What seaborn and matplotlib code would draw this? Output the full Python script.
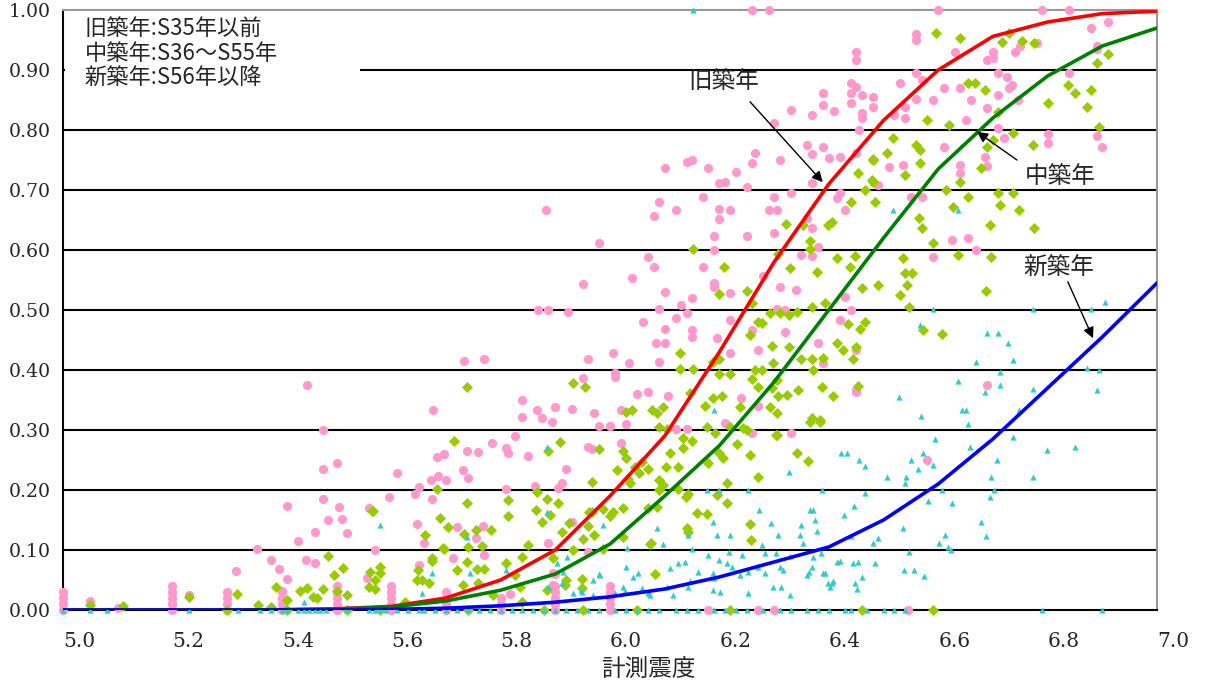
import pandas as pd
import seaborn as sns
import matplotlib.pyplot as plt
from matplotlib.patches import Rectangle

# fitted damage curves, read at 0.1 steps of intensity
curve_x = [5.0, 5.1, 5.2, 5.3, 5.4, 5.5, 5.6, 5.7, 5.8, 5.9, 6.0,
           6.1, 6.2, 6.3, 6.4, 6.5, 6.6, 6.7, 6.8, 6.9, 7.0]
old_curve = [0, 0, 0, 0, 0.0005, 0.002, 0.006, 0.02, 0.05, 0.10, 0.19,
             0.29, 0.43, 0.58, 0.71, 0.816, 0.90, 0.956, 0.98, 0.994, 0.998]
mid_curve = [0, 0, 0, 0, 0.0003, 0.0015, 0.005, 0.015, 0.033, 0.06, 0.11,
             0.19, 0.274, 0.38, 0.50, 0.62, 0.735, 0.82, 0.89, 0.94, 0.97]
new_curve = [0, 0, 0, 0, 0, 0, 0.001, 0.003, 0.007, 0.013, 0.022,
             0.035, 0.055, 0.08, 0.105, 0.15, 0.21, 0.285, 0.37, 0.455, 0.545]

# 旧築年 observations (x: intensity, y: damage ratio)
old_pts = [
    (6.26, 1.0), (6.29, 1.0), (6.60, 1.0), (6.79, 1.0), (6.84, 1.0), (6.91, 0.98), (6.88, 0.97),
    (6.45, 0.93), (6.56, 0.96), (6.56, 0.95), (6.63, 0.93), (6.70, 0.92), (6.70, 0.93), (6.74, 0.93),
    (6.75, 0.94), (6.78, 0.945), (6.89, 0.94), (6.89, 0.935), (6.45, 0.917), (6.69, 0.917), (6.71, 0.895),
    (6.725, 0.888), (6.735, 0.875), (6.745, 0.85), (6.69, 0.837), (6.66, 0.85), (6.56, 0.895), (6.57, 0.883),
    (6.53, 0.878), (6.44, 0.878), (6.45, 0.872), (6.46, 0.858), (6.44, 0.845), (6.48, 0.838), (6.39, 0.842),
    (6.39, 0.862), (6.44, 0.862), (6.48, 0.855), (6.33, 0.833), (6.37, 0.825), (6.41, 0.832), (6.46, 0.828),
    (6.52, 0.825), (6.54, 0.838), (6.54, 0.82), (6.56, 0.852), (6.59, 0.85), (6.65, 0.817), (6.71, 0.803),
    (6.80, 0.793), (6.89, 0.79), (6.685, 0.755), (6.61, 0.87), (6.64, 0.87), (6.71, 0.858), (6.73, 0.87),
    (6.84, 0.895), (6.90, 0.772), (6.80, 0.778), (6.72, 0.787), (6.61, 0.772), (6.64, 0.728), (6.69, 0.74),
    (6.46, 0.82), (6.455, 0.80), (6.30, 0.812), (6.36, 0.775), (6.39, 0.772), (6.37, 0.76), (6.265, 0.762),
    (6.26, 0.745), (6.31, 0.75), (6.40, 0.753), (6.42, 0.755), (6.45, 0.762), (6.48, 0.75), (6.51, 0.738),
    (6.535, 0.742), (6.64, 0.742), (6.10, 0.737), (6.14, 0.747), (6.15, 0.75), (6.18, 0.737),
    (6.23, 0.73), (6.20, 0.712), (6.21, 0.713), (6.25, 0.705), (6.17, 0.688), (6.09, 0.68), (6.12, 0.667),
    (6.08, 0.657), (6.20, 0.668), (6.22, 0.667), (6.20, 0.652), (6.30, 0.688), (6.29, 0.667), (6.305, 0.667),
    (6.33, 0.695), (6.37, 0.712), (6.43, 0.667), (6.415, 0.687), (6.42, 0.695), (6.49, 0.708), (6.55, 0.688),
    (6.57, 0.688), (6.655, 0.62), (6.625, 0.617), (6.67, 0.60), (6.59, 0.588), (5.883, 0.667),
    (5.98, 0.612), (6.19, 0.623), (6.19, 0.60), (6.25, 0.623), (6.30, 0.628), (6.36, 0.653), (6.37, 0.637),
    (6.35, 0.592), (6.37, 0.59), (6.38, 0.605), (6.07, 0.588), (6.08, 0.572), (6.04, 0.553), (5.95, 0.543),
    (6.17, 0.572), (6.19, 0.545), (6.19, 0.538), (6.10, 0.53), (6.15, 0.52), (6.22, 0.528),
    (6.28, 0.557), (6.31, 0.538), (6.34, 0.533), (6.43, 0.522), (5.868, 0.50), (5.887, 0.50), (5.923, 0.497),
    (6.09, 0.502), (6.13, 0.508), (6.14, 0.495), (6.12, 0.487), (6.305, 0.502), (6.32, 0.50), (6.44, 0.50),
    (6.42, 0.483), (6.06, 0.48), (6.10, 0.468), (6.15, 0.467), (6.15, 0.455), (6.195, 0.453), (6.22, 0.483),
    (6.26, 0.467), (6.32, 0.463), (6.38, 0.445), (6.085, 0.445), (6.10, 0.445), (6.22, 0.428), (6.27, 0.433),
    (6.005, 0.428), (5.96, 0.418), (6.035, 0.412), (6.09, 0.413), (5.95, 0.387), (6.01, 0.395), (6.01, 0.388),
    (6.05, 0.36), (6.07, 0.363), (6.106, 0.357), (5.90, 0.338), (5.93, 0.335), (5.97, 0.328), (6.02, 0.333),
    (5.98, 0.307), (6.00, 0.307), (6.03, 0.31), (6.24, 0.353), (6.27, 0.34), (6.39, 0.412), (6.45, 0.367),
    (6.12, 0.302), (6.14, 0.302), (6.21, 0.312), (6.26, 0.295), (6.33, 0.295), (5.96, 0.272), (6.02, 0.278),
    (6.45, 0.433), (6.45, 0.363), (6.69, 0.375), (6.58, 0.25),
    (5.446, 0.375), (5.475, 0.30), (5.475, 0.235), (5.50, 0.245), (5.475, 0.185), (5.505, 0.172),
    (5.485, 0.15), (5.51, 0.152), (5.52, 0.128), (5.46, 0.13), (5.43, 0.115), (5.41, 0.173), (5.355, 0.102),
    (5.38, 0.083), (5.395, 0.068), (5.316, 0.065), (5.41, 0.052), (5.445, 0.083), (5.46, 0.078),
    (5.50, 0.04), (5.40, 0.032), (5.57, 0.10), (5.56, 0.17), (5.596, 0.188), (5.61, 0.228), (5.643, 0.193),
    (5.65, 0.205), (5.647, 0.143), (5.66, 0.112), (5.672, 0.217), (5.675, 0.185), (5.684, 0.255), (5.697, 0.26),
    (5.686, 0.223), (5.70, 0.217), (5.676, 0.333), (5.72, 0.138), (5.713, 0.087), (5.733, 0.415), (5.77, 0.418),
    (5.738, 0.265), (5.759, 0.263), (5.731, 0.233), (5.74, 0.22), (5.755, 0.12), (5.77, 0.092), (5.785, 0.278),
    (5.81, 0.27), (5.813, 0.262), (5.826, 0.29), (5.81, 0.202), (5.85, 0.257), (5.84, 0.35), (5.84, 0.322),
    (5.866, 0.333), (5.876, 0.32), (5.894, 0.313), (5.863, 0.207), (5.912, 0.212), (5.905, 0.203),
    (5.92, 0.235), (5.967, 0.268), (5.887, 0.112), (5.96, 0.097), (5.817, 0.027), (5.896, 0.042),
    (5.896, 0.062), (5.93, 0.147), (5.768, 0.14), (5.556, 0.053), (5.05, 0.015), (5.10, 0.003),
    (5.23, 0.025), (5.65, 0.075),
    # stacks near zero at round intensities
    (5.0, 0), (5.0, 0.01), (5.0, 0.02), (5.0, 0.03),
    (5.2, 0), (5.2, 0.01), (5.2, 0.02), (5.2, 0.03), (5.2, 0.04),
    (5.3, 0), (5.3, 0.01), (5.3, 0.02), (5.3, 0.03),
    (5.4, 0), (5.4, 0.01), (5.4, 0.02), (5.4, 0.03),
    (5.5, 0), (5.5, 0.01), (5.5, 0.02), (5.5, 0.03),
    (5.6, 0), (5.6, 0.01), (5.6, 0.02), (5.6, 0.03), (5.6, 0.04),
    (5.7, 0), (5.7, 0.01), (5.7, 0.02), (5.7, 0.03),
    (5.8, 0), (5.8, 0.01), (5.8, 0.02),
    (5.9, 0), (5.9, 0.01), (5.9, 0.02), (5.9, 0.03), (5.9, 0.04), (5.9, 0.06),
    (6.0, 0), (6.0, 0.01), (6.0, 0.02), (6.0, 0.03), (6.0, 0.04),
    (6.18, 0), (6.27, 0), (6.30, 0), (6.545, 0),
]

# 中築年 observations
mid_pts = [
    (6.596, 0.962), (6.64, 0.953), (6.73, 0.962), (6.716, 0.947), (6.753, 0.948), (6.775, 0.945),
    (6.91, 0.927), (6.89, 0.912), (6.655, 0.878), (6.667, 0.878), (6.686, 0.867), (6.71, 0.83),
    (6.80, 0.845), (6.837, 0.875), (6.85, 0.862), (6.88, 0.867), (6.872, 0.838), (6.894, 0.805),
    (6.58, 0.817), (6.62, 0.808), (6.737, 0.795), (6.773, 0.775), (6.70, 0.783), (6.69, 0.772),
    (6.678, 0.737), (6.64, 0.713), (6.614, 0.70), (6.71, 0.695), (6.713, 0.675), (6.737, 0.695),
    (6.748, 0.667), (6.775, 0.637), (6.695, 0.642), (6.627, 0.672), (6.655, 0.688), (6.687, 0.532),
    (6.697, 0.588), (6.636, 0.592), (6.607, 0.46), (6.573, 0.467), (6.536, 0.587), (6.54, 0.562),
    (6.552, 0.562), (6.543, 0.542), (6.53, 0.525), (6.547, 0.505), (6.59, 0.612), (6.565, 0.653),
    (6.57, 0.637), (6.517, 0.787), (6.56, 0.775), (6.567, 0.767), (6.54, 0.725), (6.506, 0.762),
    (6.567, 0.745), (6.479, 0.717), (6.453, 0.728), (6.44, 0.68), (6.48, 0.75),
    (6.152, 0.602), (6.208, 0.572), (6.20, 0.527), (6.25, 0.532), (6.307, 0.593), (6.329, 0.57),
    (6.378, 0.563), (6.322, 0.643), (6.353, 0.642), (6.366, 0.615), (6.366, 0.602), (6.398, 0.642),
    (6.405, 0.647), (6.415, 0.587), (6.439, 0.572), (6.448, 0.59), (6.46, 0.537), (6.49, 0.542),
    (6.466, 0.70), (6.481, 0.713), (6.484, 0.68), (6.481, 0.752),
    (6.293, 0.495), (6.31, 0.495), (6.327, 0.492), (6.26, 0.512), (6.27, 0.48), (6.278, 0.478),
    (6.342, 0.497), (6.37, 0.505), (6.393, 0.512), (6.256, 0.458), (6.296, 0.44), (6.327, 0.438),
    (6.35, 0.418), (6.369, 0.418), (6.371, 0.40), (6.389, 0.42), (6.415, 0.445), (6.426, 0.433),
    (6.444, 0.418), (6.435, 0.477), (6.457, 0.468), (6.466, 0.48), (6.45, 0.438), (6.453, 0.373),
    (6.408, 0.357), (6.388, 0.372), (6.344, 0.367), (6.323, 0.358), (6.307, 0.357), (6.296, 0.37),
    (6.305, 0.383), (6.298, 0.412), (6.265, 0.40), (6.278, 0.40), (6.26, 0.385), (6.27, 0.372),
    (6.293, 0.338), (6.305, 0.328), (6.238, 0.338), (6.369, 0.32), (6.384, 0.317), (6.305, 0.292),
    (6.128, 0.428), (6.128, 0.402), (6.152, 0.402), (6.188, 0.413), (6.20, 0.418), (6.20, 0.393),
    (6.22, 0.393), (6.146, 0.362), (6.188, 0.353), (6.205, 0.357), (6.174, 0.34), (6.03, 0.33),
    (6.04, 0.333), (6.077, 0.333), (6.086, 0.328), (6.097, 0.338),
    (5.909, 0.28), (5.98, 0.268), (5.967, 0.213), (6.013, 0.233), (6.024, 0.265), (6.03, 0.253),
    (6.045, 0.238), (6.058, 0.247), (6.053, 0.228), (6.07, 0.235), (6.033, 0.218), (6.037, 0.212),
    (6.09, 0.305), (6.104, 0.302), (6.11, 0.262), (6.124, 0.238), (6.102, 0.238), (6.09, 0.217),
    (6.097, 0.208), (6.09, 0.20), (6.124, 0.202), (6.143, 0.193), (6.133, 0.287), (6.15, 0.282),
    (6.133, 0.27), (6.177, 0.305), (6.192, 0.295), (6.179, 0.245), (6.20, 0.262), (6.207, 0.253),
    (6.22, 0.305), (6.243, 0.303), (6.25, 0.30), (6.232, 0.277), (6.214, 0.212), (6.195, 0.192),
    (6.214, 0.178), (6.256, 0.258), (6.27, 0.222), (6.303, 0.292), (6.342, 0.262), (6.362, 0.248),
    (6.366, 0.313), (6.384, 0.313), (6.139, 0.188), (6.143, 0.13), (6.159, 0.162), (6.177, 0.16),
    (6.14, 0.137), (6.256, 0.143), (6.258, 0.117), (6.073, 0.11), (6.07, 0.17), (6.086, 0.172),
    (5.987, 0.168), (6.0, 0.157), (6.005, 0.163), (6.024, 0.17), (5.962, 0.163), (5.96, 0.14),
    (5.97, 0.125), (5.95, 0.118), (5.987, 0.102), (6.024, 0.122), (5.918, 0.042), (5.949, 0.052),
    (5.949, 0.037), (6.082, 0.06), (6.075, 0.112),
    (5.738, 0.372), (5.715, 0.282), (5.684, 0.202), (5.738, 0.178), (5.565, 0.165), (5.69, 0.153),
    (5.703, 0.138), (5.662, 0.125), (5.697, 0.102), (5.675, 0.087), (5.675, 0.082), (5.755, 0.133),
    (5.733, 0.127), (5.74, 0.105), (5.766, 0.107), (5.782, 0.133), (5.738, 0.08), (5.72, 0.067),
    (5.757, 0.068), (5.77, 0.068), (5.759, 0.045), (5.731, 0.042), (5.649, 0.067), (5.647, 0.05),
    (5.656, 0.05), (5.561, 0.063), (5.58, 0.072), (5.58, 0.062), (5.57, 0.05), (5.56, 0.038),
    (5.57, 0.035), (5.485, 0.09), (5.512, 0.07), (5.495, 0.058), (5.475, 0.035), (5.5, 0.032),
    (5.52, 0.025), (5.433, 0.032), (5.446, 0.037), (5.457, 0.022), (5.464, 0.02), (5.318, 0.027),
    (5.357, 0.008), (5.38, 0.005), (5.39, 0.038), (5.41, 0.017), (5.81, 0.078), (5.826, 0.058),
    (5.84, 0.088), (5.813, 0.183), (5.813, 0.157), (5.85, 0.108), (5.865, 0.167), (5.876, 0.147),
    (5.89, 0.158), (5.866, 0.197), (5.885, 0.185), (5.905, 0.178), (5.887, 0.265), (5.925, 0.145),
    (5.912, 0.13), (5.932, 0.378), (5.954, 0.372), (5.967, 0.163), (5.932, 0.10), (5.896, 0.087),
    (5.92, 0.05), (5.885, 0.033), (5.835, 0.038), (5.786, 0.025), (5.625, 0.013), (5.695, 0.103),
    (5.84, 0.013), (5.67, 0.045), (5.05, 0.008), (5.11, 0.006), (5.23, 0.022), (5.567, 0.165),
    (5.30, 0), (5.41, 0), (5.52, 0), (5.58, 0), (5.74, 0), (5.88, 0), (5.95, 0), (6.05, 0),
    (6.22, 0), (6.46, 0), (6.59, 0),
]

# 新築年 observations
new_pts = [
    (6.152, 1.0), (6.517, 0.667), (6.636, 0.667), (6.567, 0.475), (6.59, 0.502), (6.773, 0.502),
    (6.88, 0.502), (6.905, 0.513), (6.69, 0.462), (6.71, 0.462), (6.728, 0.445), (6.67, 0.413),
    (6.737, 0.417), (6.713, 0.397), (6.713, 0.375), (6.636, 0.382), (6.686, 0.363), (6.773, 0.368),
    (6.872, 0.403), (6.894, 0.40), (6.89, 0.367), (6.528, 0.355), (6.569, 0.323), (6.643, 0.333),
    (6.65, 0.333), (6.655, 0.31), (6.748, 0.333), (6.594, 0.285), (6.658, 0.272), (6.737, 0.288),
    (6.799, 0.267), (6.85, 0.272), (6.422, 0.262), (6.433, 0.262), (6.455, 0.25), (6.466, 0.24),
    (6.55, 0.25), (6.573, 0.262), (6.563, 0.235), (6.59, 0.242), (6.708, 0.25), (6.506, 0.222),
    (6.541, 0.222), (6.539, 0.212), (6.697, 0.222), (6.773, 0.222), (6.387, 0.20), (6.466, 0.195),
    (6.607, 0.20), (6.702, 0.20), (6.695, 0.188), (6.581, 0.182), (6.625, 0.178), (6.366, 0.167),
    (6.371, 0.167), (6.446, 0.173), (6.428, 0.158), (6.375, 0.15), (6.35, 0.142), (6.378, 0.132),
    (6.44, 0.123), (6.535, 0.137), (6.678, 0.147), (6.687, 0.123), (6.612, 0.125), (6.601, 0.112),
    (6.618, 0.105), (6.623, 0.10), (6.49, 0.12), (6.481, 0.112), (6.353, 0.112), (6.371, 0.088),
    (6.386, 0.095), (6.547, 0.097), (6.415, 0.08), (6.42, 0.082), (6.444, 0.078), (6.453, 0.08),
    (6.484, 0.078), (6.369, 0.072), (6.36, 0.058), (6.393, 0.062), (6.46, 0.055), (6.406, 0.045),
    (6.402, 0.038), (6.448, 0.045), (6.452, 0.035), (6.537, 0.067), (6.556, 0.067), (6.574, 0.057),
    (6.327, 0.23), (6.177, 0.20), (6.20, 0.20), (6.252, 0.20), (6.272, 0.167), (6.188, 0.147),
    (6.195, 0.125), (6.086, 0.137), (5.987, 0.142), (6.143, 0.125), (6.22, 0.125), (6.294, 0.145),
    (6.307, 0.125), (6.347, 0.125), (6.278, 0.108), (6.241, 0.092), (6.303, 0.095), (6.329, 0.09),
    (6.179, 0.092), (6.15, 0.102), (6.124, 0.078), (6.137, 0.08), (6.11, 0.07), (6.161, 0.063),
    (6.188, 0.062), (6.19, 0.053), (6.223, 0.072), (6.238, 0.058), (6.27, 0.072), (6.283, 0.062),
    (6.311, 0.072), (6.316, 0.067), (6.364, 0.063), (6.389, 0.062), (6.051, 0.062), (5.982, 0.058),
    (6.024, 0.038), (6.058, 0.037), (5.932, 0.028), (5.949, 0.03), (5.969, 0.025), (6.009, 0.028),
    (6.07, 0.028), (6.104, 0.038), (6.115, 0.025), (6.201, 0.03), (6.252, 0.028), (6.298, 0.038),
    (6.312, 0.038), (6.329, 0.025), (6.399, 0.045), (6.408, 0.048), (5.921, 0.088), (5.914, 0.063),
    (5.912, 0.045), (5.744, 0.062), (5.675, 0.062), (5.656, 0.028), (5.903, 0.078), (5.947, 0.033),
    (5.98, 0.06), (6.031, 0.103), (6.029, 0.072), (6.042, 0.055), (6.027, 0.032), (6.073, 0.025),
    (6.097, 0.11), (6.146, 0.048), (6.143, 0.038), (6.188, 0.033), (6.20, 0.083), (6.214, 0.078),
    (6.218, 0.097), (6.252, 0.063), (6.283, 0.095), (5.58, 0.142), (5.885, 0.272), (5.885, 0.163),
    (5.738, 0.122), (5.81, 0.067), (5.887, 0.038), (5.969, 0.05), (6.19, 0.333), (5.44, 0.013),
    (5.0, 0), (5.05, 0), (5.08, 0), (5.23, 0), (5.32, 0), (5.36, 0), (5.38, 0), (5.40, 0), (5.41, 0),
    (5.43, 0), (5.44, 0), (5.45, 0), (5.46, 0), (5.47, 0), (5.48, 0), (5.52, 0), (5.56, 0), (5.57, 0),
    (5.58, 0), (5.59, 0), (5.61, 0), (5.63, 0), (5.65, 0), (5.66, 0), (5.68, 0), (5.70, 0), (5.72, 0),
    (5.74, 0), (5.76, 0), (5.78, 0), (5.80, 0), (5.82, 0), (5.84, 0), (5.86, 0), (5.88, 0), (5.90, 0),
    (5.92, 0), (5.94, 0), (5.96, 0), (5.98, 0), (6.01, 0), (6.03, 0), (6.05, 0), (6.07, 0), (6.09, 0),
    (6.12, 0), (6.14, 0), (6.16, 0), (6.19, 0), (6.21, 0), (6.23, 0), (6.25, 0), (6.28, 0), (6.31, 0),
    (6.33, 0), (6.36, 0), (6.38, 0), (6.40, 0), (6.43, 0), (6.44, 0), (6.47, 0), (6.50, 0), (6.52, 0),
    (6.54, 0), (6.79, 0), (6.90, 0),
]

legend_lines = ['旧築年:S35年以前', '中築年:S36～S55年', '新築年:S56年以降']
x_ticks = [5.0, 5.2, 5.4, 5.6, 5.8, 6.0, 6.2, 6.4, 6.6, 6.8, 7.0]
y_ticks = [0.0, 0.1, 0.2, 0.3, 0.4, 0.5, 0.6, 0.7, 0.8, 0.9, 1.0]

sns.set_style('white')
plt.rcParams['font.family'] = ['Noto Sans CJK JP', 'DejaVu Sans']

fig = plt.figure(figsize=(12.05, 6.88), dpi=100)
ax = fig.add_axes([63 / 1205, 78 / 688, 1094 / 1205, 600 / 688])

old = pd.DataFrame(old_pts, columns=['x', 'y'])
mid = pd.DataFrame(mid_pts, columns=['x', 'y'])
new = pd.DataFrame(new_pts, columns=['x', 'y'])

sns.scatterplot(data=old, x='x', y='y', ax=ax, marker='o', s=44, color='#FF99CC',
                linewidth=0, clip_on=False, zorder=3)
sns.scatterplot(data=mid, x='x', y='y', ax=ax, marker='D', s=32, color='#99CC00',
                linewidth=0, clip_on=False, zorder=3)
sns.scatterplot(data=new, x='x', y='y', ax=ax, marker='^', s=20, color='#33CCCC',
                linewidth=0, clip_on=False, zorder=3)

sns.lineplot(x=curve_x, y=old_curve, ax=ax, color='#FF0000', lw=2.6, errorbar=None, zorder=4)
sns.lineplot(x=curve_x, y=mid_curve, ax=ax, color='#008000', lw=2.6, errorbar=None, zorder=4)
sns.lineplot(x=curve_x, y=new_curve, ax=ax, color='#0000FF', lw=2.6, errorbar=None, zorder=4)

ax.set_xlim(5.0, 7.0)
ax.set_ylim(0, 1.0)
ax.set_xticks(x_ticks)
ax.set_xticklabels([f'{v:.1f}' for v in x_ticks], family='DejaVu Serif', fontsize=14.5, ha='left')
ax.set_yticks(y_ticks)
ax.set_yticklabels([f'{v:.2f}' for v in y_ticks], family='DejaVu Serif', fontsize=13.6)
ax.tick_params(axis='x', direction='in', length=5, width=1.2, pad=16)
ax.tick_params(axis='y', direction='in', length=5, width=1.2, pad=9)
ax.set_xlabel('計測震度', fontsize=17)
ax.xaxis.set_label_coords(0.535, -0.082)
ax.set_ylabel('')

for yv in y_ticks[1:-1]:
    ax.axhline(yv, color='black', lw=1.5, zorder=1)

for side in ['left', 'bottom']:
    ax.spines[side].set_color('black')
    ax.spines[side].set_linewidth(1.5)
for side in ['top', 'right']:
    ax.spines[side].set_color('#999999')
    ax.spines[side].set_linewidth(1.5)

# white box behind the era legend
ax.add_patch(Rectangle((5.003, 0.86), 0.54, 0.137, facecolor='white', edgecolor='none', zorder=5))
for i, line in enumerate(legend_lines):
    ax.text(5.04, 0.97 - i * 0.042, line, fontsize=16, va='center', ha='left', zorder=6)

arrow = dict(arrowstyle='-|>', color='black', lw=1, mutation_scale=16, shrinkA=0, shrinkB=0)
ax.text(6.207, 0.88, '旧築年', fontsize=17, ha='center', va='center', zorder=6)
ax.annotate('', xy=(6.389, 0.713), xytext=(6.256, 0.847), arrowprops=arrow, zorder=6)
ax.text(6.823, 0.723, '中築年', fontsize=17, ha='center', va='center', zorder=6)
ax.annotate('', xy=(6.671, 0.797), xytext=(6.744, 0.75), arrowprops=arrow, zorder=6)
ax.text(6.821, 0.57, '新築年', fontsize=17, ha='center', va='center', zorder=6)
ax.annotate('', xy=(6.883, 0.453), xytext=(6.837, 0.547), arrowprops=arrow, zorder=6)

fig.savefig('out.png', dpi=100)
